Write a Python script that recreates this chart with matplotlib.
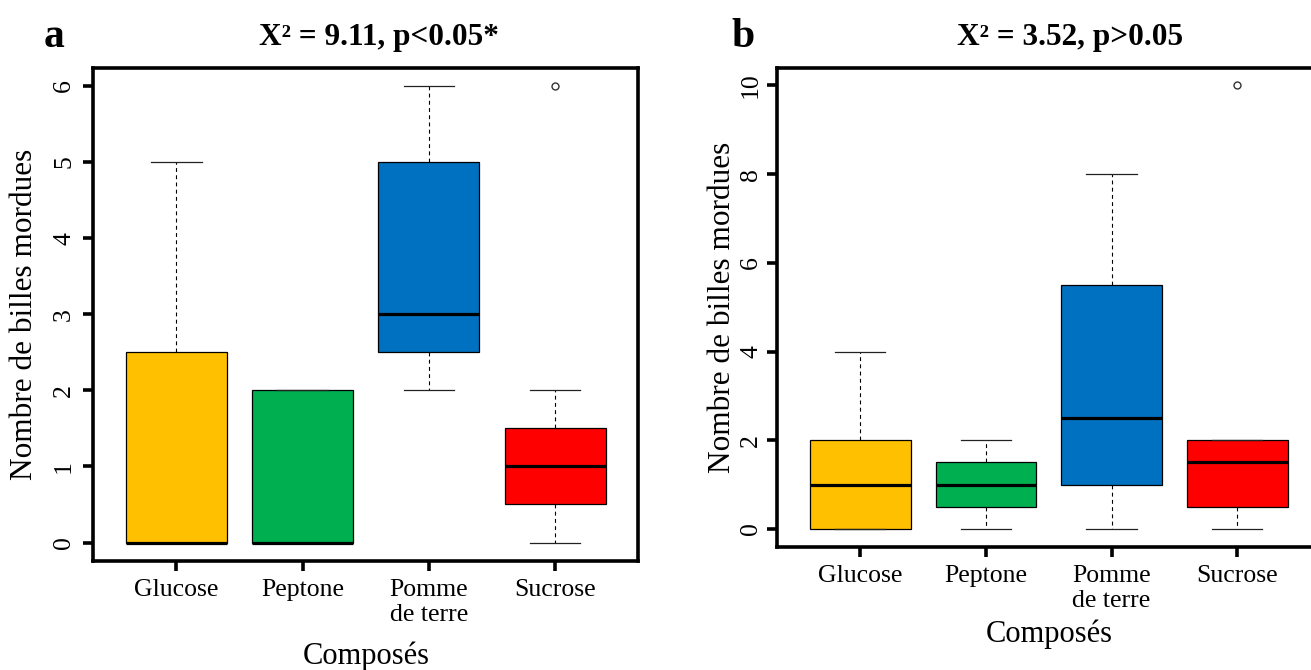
import matplotlib
matplotlib.use("Agg")
import matplotlib.pyplot as plt

plt.rcParams['font.family'] = ['Liberation Serif', 'DejaVu Serif']

categories = ["Glucose", "Peptone", "Pomme\nde terre", "Sucrose"]
colors = ["#FFC000", "#00B050", "#0070C0", "#FF0000"]

# panel a: whisker low, Q1, median, Q3, whisker high, outliers
a_whislo = [0, 0, 2, 0]
a_q1 = [0, 0, 2.5, 0.5]
a_med = [0, 0, 3, 1]
a_q3 = [2.5, 2, 5, 1.5]
a_whishi = [5, 2, 6, 2]
a_fliers = [[], [], [], [6]]
a_title = "X² = 9.11, p<0.05*"
a_yticks = [0, 1, 2, 3, 4, 5, 6]

# panel b
b_whislo = [0, 0, 0, 0]
b_q1 = [0, 0.5, 1, 0.5]
b_med = [1, 1, 2.5, 1.5]
b_q3 = [2, 1.5, 5.5, 2]
b_whishi = [4, 2, 8, 2]
b_fliers = [[], [], [], [10]]
b_title = "X² = 3.52, p>0.05"
b_yticks = [0, 2, 4, 6, 8, 10]


def stats(lo, q1, med, q3, hi, fl):
    out = []
    for i in range(len(categories)):
        out.append(dict(whislo=lo[i], q1=q1[i], med=med[i], q3=q3[i],
                        whishi=hi[i], fliers=fl[i], label=categories[i]))
    return out


def draw(ax, st, yticks, title, ymax, ypad, ylpad, xlpad, tx):
    bp = ax.bxp(st, widths=0.8, patch_artist=True,
                boxprops=dict(edgecolor="black", linewidth=0.9),
                medianprops=dict(color="black", linewidth=2.3),
                whiskerprops=dict(color="black", linewidth=0.8, linestyle=(0, (3.5, 3))),
                capprops=dict(color="#222222", linewidth=0.9),
                flierprops=dict(marker="o", markersize=5, markerfacecolor="none",
                                markeredgecolor="#333333", markeredgewidth=1))
    for patch, c in zip(bp["boxes"], colors):
        patch.set_facecolor(c)
    ax.set_xlim(0.34, 4.66)
    ax.set_ylim(-0.04 * ymax, 1.04 * ymax)
    ax.set_yticks(yticks)
    ax.set_yticklabels([str(t) for t in yticks], rotation=90, va="center")
    for s in ax.spines.values():
        s.set_linewidth(2.6)
    ax.tick_params(axis="both", length=7, width=2.6, labelsize=18.5)
    ax.tick_params(axis="x", pad=6)
    ax.tick_params(axis="y", pad=ypad)
    ax.set_xlabel("Composés", fontsize=22, labelpad=xlpad)
    ax.set_ylabel("Nombre de billes mordues", fontsize=22.5, labelpad=ylpad)
    ax.set_title(title, fontsize=22.5, fontweight="bold", pad=16, x=tx)


fig = plt.figure(figsize=(13.11, 6.70), dpi=100)
ax1 = fig.add_axes([0.071, 0.163, 0.416, 0.736])
ax2 = fig.add_axes([0.593, 0.184, 0.414, 0.715])

draw(ax1, stats(a_whislo, a_q1, a_med, a_q3, a_whishi, a_fliers), a_yticks, a_title, 6,
     6, 10, 11, 0.525)
draw(ax2, stats(b_whislo, b_q1, b_med, b_q3, b_whishi, b_fliers), b_yticks, b_title, 10,
     4, 2, 5, 0.54)

fig.text(0.033, 0.945, "a", fontsize=30, fontweight="bold", va="center")
fig.text(0.558, 0.945, "b", fontsize=30, fontweight="bold", va="center")

fig.savefig("out.png", dpi=100)
